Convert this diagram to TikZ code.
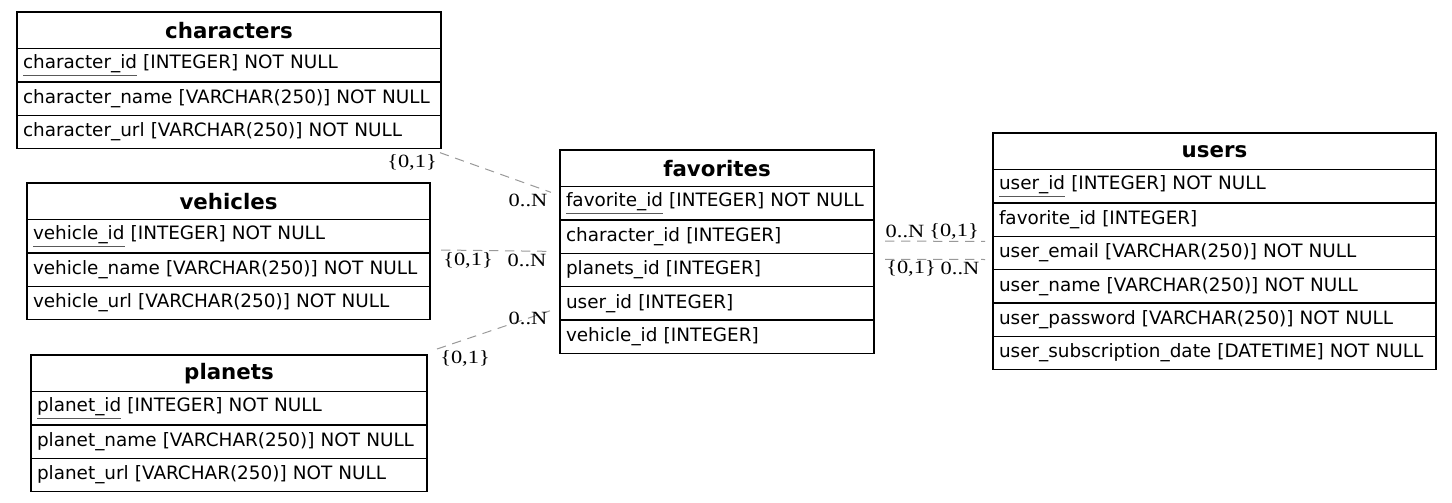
\documentclass[tikz,border=0pt]{standalone}
\usepackage{fontspec}
\setmainfont{DejaVu Sans}
\newfontfamily\cardfont[FakeStretch=1.2]{Liberation Serif}
\usepackage{tikz}
\usetikzlibrary{calc}
\usepackage{xcolor}
\definecolor{linkGray}{rgb}{0.6,0.6,0.6}
\newcommand{\pkey}[1]{{\color{black!65}\underline{\color{black}#1}}}
\tikzset{
  tablehead/.style={draw, line width=0.8pt, anchor=north west, outer sep=0pt, inner xsep=0pt, inner ysep=0pt,
    minimum height=27.5pt, align=center, font=\fontsize{16}{19}\selectfont\bfseries},
  tablerow/.style={draw, line width=0.8pt, anchor=north west, outer sep=0pt, inner xsep=4.5pt, inner ysep=0pt,
    minimum height=25pt, align=left, font=\fontsize{13.8}{16}\selectfont},
  link/.style={draw=linkGray, line width=0.75pt, dash pattern=on 7pt off 5pt},
  card/.style={inner sep=0pt, font=\cardfont\fontsize{14}{16}\selectfont},
}

\begin{document}
\begin{tikzpicture}[x=0.75pt, y=-0.75pt]
\useasboundingbox (0,0) rectangle (1452,503);

%%%%%%%%%%%%%%%%%%%%%%%%%%%%%%%%%%%%%%%%%%%%%%%%%%%%%%%%%%%%%% characters
\node[tablehead, text width=318pt] (characters) at (17,12) {characters};
\node[tablerow, text width=309pt] (characters-id) at (characters.south west) {\pkey{character\_id} [INTEGER] NOT NULL};
\node[tablerow, text width=309pt] (characters-name) at (characters-id.south west) {character\_name [VARCHAR(250)] NOT NULL};
\node[tablerow, text width=309pt] (characters-url) at (characters-name.south west) {character\_url [VARCHAR(250)] NOT NULL};

%%%%%%%%%%%%%%%%%%%%%%%%%%%%%%%%%%%%%%%%%%%%%%%%%%%%%%%%%%%%%% vehicles
\node[tablehead, text width=302.25pt] (vehicles) at (27,183) {vehicles};
\node[tablerow, text width=293.25pt] (vehicles-id) at (vehicles.south west) {\pkey{vehicle\_id} [INTEGER] NOT NULL};
\node[tablerow, text width=293.25pt] (vehicles-name) at (vehicles-id.south west) {vehicle\_name [VARCHAR(250)] NOT NULL};
\node[tablerow, text width=293.25pt] (vehicles-url) at (vehicles-name.south west) {vehicle\_url [VARCHAR(250)] NOT NULL};

%%%%%%%%%%%%%%%%%%%%%%%%%%%%%%%%%%%%%%%%%%%%%%%%%%%%%%%%%%%%%% planets
\node[tablehead, text width=297pt] (planets) at (31,355) {planets};
\node[tablerow, text width=288pt] (planets-id) at (planets.south west) {\pkey{planet\_id} [INTEGER] NOT NULL};
\node[tablerow, text width=288pt] (planets-name) at (planets-id.south west) {planet\_name [VARCHAR(250)] NOT NULL};
\node[tablerow, text width=288pt] (planets-url) at (planets-name.south west) {planet\_url [VARCHAR(250)] NOT NULL};

%%%%%%%%%%%%%%%%%%%%%%%%%%%%%%%%%%%%%%%%%%%%%%%%%%%%%%%%%%%%%% favorites
\node[tablehead, text width=235.5pt] (favorites) at (560,150) {favorites};
\node[tablerow, text width=226.5pt] (favorites-id) at (favorites.south west) {\pkey{favorite\_id} [INTEGER] NOT NULL};
\node[tablerow, text width=226.5pt] (favorites-character) at (favorites-id.south west) {character\_id [INTEGER]};
\node[tablerow, text width=226.5pt] (favorites-planets) at (favorites-character.south west) {planets\_id [INTEGER]};
\node[tablerow, text width=226.5pt] (favorites-user) at (favorites-planets.south west) {user\_id [INTEGER]};
\node[tablerow, text width=226.5pt] (favorites-vehicle) at (favorites-user.south west) {vehicle\_id [INTEGER]};

%%%%%%%%%%%%%%%%%%%%%%%%%%%%%%%%%%%%%%%%%%%%%%%%%%%%%%%%%%%%%% users
\node[tablehead, text width=332.25pt] (users) at (993,133) {users};
\node[tablerow, text width=323.25pt] (users-id) at (users.south west) {\pkey{user\_id} [INTEGER] NOT NULL};
\node[tablerow, text width=323.25pt] (users-favorite) at (users-id.south west) {favorite\_id [INTEGER]};
\node[tablerow, text width=323.25pt] (users-email) at (users-favorite.south west) {user\_email [VARCHAR(250)] NOT NULL};
\node[tablerow, text width=323.25pt] (users-name) at (users-email.south west) {user\_name [VARCHAR(250)] NOT NULL};
\node[tablerow, text width=323.25pt] (users-password) at (users-name.south west) {user\_password [VARCHAR(250)] NOT NULL};
\node[tablerow, text width=323.25pt] (users-date) at (users-password.south west) {user\_subscription\_date [DATETIME] NOT NULL};

%%%%%%%%%%%%%%%%%%%%%%%%%%%%%%%%%%%%%%%%%%%%%%%%%%%%%%%%%%%%%% links
% characters -- favorites
\coordinate (chr-out) at ($(characters-url.south east)+(-1,4)$);
\coordinate (fav-chr-in) at ($(favorites-id.west)+(-9,-11)$);
\draw[link] (chr-out) -- (fav-chr-in);
% vehicles -- favorites
\coordinate (veh-out) at ($(vehicles-id.south east)+(11,-3)$);
\coordinate (fav-veh-in) at ($(favorites-planets.north west)+(-11,-2)$);
\draw[link] (veh-out) -- (fav-veh-in);
% planets -- favorites
\coordinate (pla-out) at ($(planets.north east)+(10,-6)$);
\coordinate (fav-pla-in) at ($(favorites-user.west)+(-10,7.5)$);
\draw[link] (pla-out) -- (fav-pla-in);
% favorites -- users (both ways)
\coordinate (fav-usr-a) at ($(favorites-character.east)+(11,4.5)$);
\coordinate (usr-fav-a) at ($(users-email.north west)+(-8,5)$);
\draw[link] (fav-usr-a) -- (usr-fav-a);
\coordinate (fav-usr-b) at ($(favorites-planets.north east)+(11,6)$);
\coordinate (usr-fav-b) at ($(users-email.west)+(-8,6.5)$);
\draw[link] (fav-usr-b) -- (usr-fav-b);

% cardinalities
\node[card] (chr-one) at (412,162) {\{0,1\}};
\node[card] (chr-many) at (528,200) {0..N};
\node[card] (veh-one) at (468,260) {\{0,1\}};
\node[card] (veh-many) at (527,260) {0..N};
\node[card] (pla-one) at (465,358) {\{0,1\}};
\node[card] (pla-many) at (528,318) {0..N};
\node[card] (usr-many-a) at (905,231) {0..N};
\node[card] (usr-one-a) at (954,231) {\{0,1\}};
\node[card] (usr-one-b) at (911,268) {\{0,1\}};
\node[card] (usr-many-b) at (960,268) {0..N};

\end{tikzpicture}
\end{document}
